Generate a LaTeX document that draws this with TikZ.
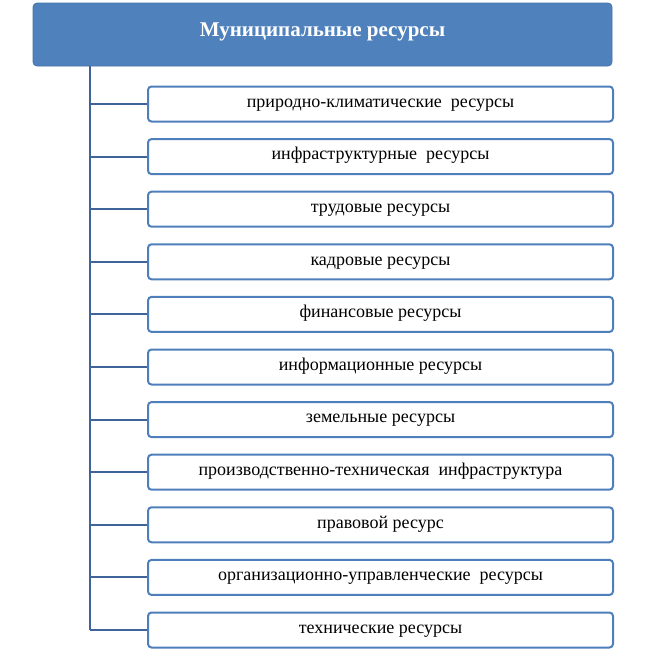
\documentclass[tikz,border=0pt]{standalone}
\usepackage{fontspec}
\setmainfont{Liberation Serif}
\definecolor{headblue}{HTML}{4F81BD}
\definecolor{boxblue}{HTML}{4F7FBB}
\definecolor{lineblue}{HTML}{3E649A}
\tikzset{
  headbox/.style={draw=headblue!90!black, fill=headblue, line width=0.8pt, rounded corners=4pt,
    minimum width=579, minimum height=63, inner sep=0pt, text=white,
    text height=0.7em, text depth=0.24em,
    font=\fontsize{21}{24}\selectfont\bfseries},
  itembox/.style={draw=boxblue, fill=white, line width=2pt, rounded corners=3.5pt,
    minimum width=465, minimum height=35, inner sep=0pt,
    text height=0.8em, text depth=0.13em,
    font=\fontsize{18}{21}\selectfont},
  conn/.style={draw=lineblue, line width=2pt}
}
\begin{document}
\begin{tikzpicture}[x=1pt,y=-1pt]
\useasboundingbox (0,0) rectangle (646,651);
\node[headbox] (top) at (322.5,34.5) {Муниципальные ресурсы};
\node[itembox] (b1) at (380.5,104.0) {природно-климатические\ \ ресурсы};
\node[itembox] (b2) at (380.5,156.6) {инфраструктурные\ \ ресурсы};
\node[itembox] (b3) at (380.5,209.2) {трудовые ресурсы};
\node[itembox] (b4) at (380.5,261.8) {кадровые ресурсы};
\node[itembox] (b5) at (380.5,314.4) {финансовые ресурсы};
\node[itembox] (b6) at (380.5,367.0) {информационные ресурсы};
\node[itembox] (b7) at (380.5,419.6) {земельные ресурсы};
\node[itembox] (b8) at (380.5,472.2) {производственно-техническая\ \ инфраструктура};
\node[itembox] (b9) at (380.5,524.8) {правовой ресурс};
\node[itembox] (b10) at (380.5,577.4) {организационно-управленческие\ \ ресурсы};
\node[itembox] (b11) at (380.5,630.0) {технические ресурсы};
\coordinate (trunktop) at (90,66);
\draw[conn] (trunktop) -- (trunktop |- b11.west);
\foreach \i in {1,...,11}{
  \draw[conn] (trunktop |- b\i.west) -- (b\i.west);
}
\end{tikzpicture}
\end{document}
